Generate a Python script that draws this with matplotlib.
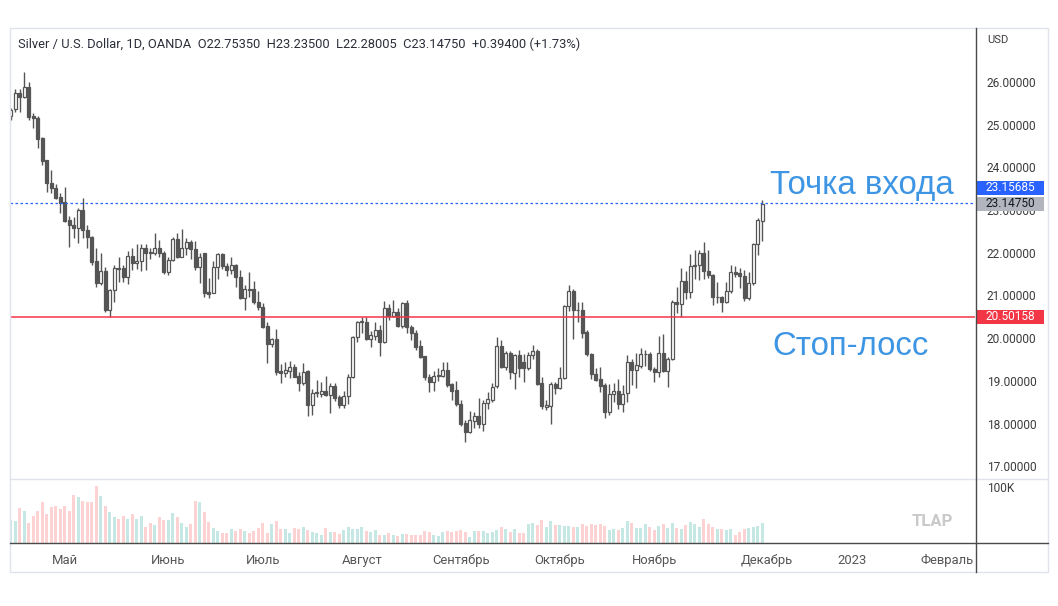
import matplotlib
matplotlib.use("Agg")
import numpy as np
import matplotlib.pyplot as plt
import matplotlib.transforms as mtransforms
from matplotlib.lines import Line2D
from matplotlib.patches import Rectangle

# ---------------- data ----------------
opens = [25.20, 25.37, 25.74, 25.65, 25.88, 25.20, 25.15, 24.69, 24.17, 23.63,
         23.52, 23.31, 23.18, 22.77, 22.65, 22.58, 23.00, 22.53, 22.37, 21.81,
         21.29, 21.57, 20.66, 21.13, 21.65, 21.65, 21.43, 21.93, 21.76, 21.80,
         22.12, 22.02, 21.99, 22.12, 22.00, 21.56, 21.83, 22.33, 21.90, 22.10,
         22.25, 22.08, 21.67, 22.00, 21.08, 21.06, 21.67, 21.98, 21.70, 21.60,
         21.72, 21.44, 20.94, 21.15, 21.15, 20.85, 20.72, 20.28, 19.86, 19.98,
         19.23, 19.18, 19.24, 19.33, 19.12, 18.95, 19.22, 18.43, 18.72, 18.70,
         18.77, 18.67, 18.88, 18.62, 18.43, 18.65, 19.08, 20.03, 20.38, 20.38,
         19.98, 20.05, 20.20, 19.90, 20.70, 20.52, 20.62, 20.29, 20.83, 20.27,
         20.13, 19.82, 19.57, 19.08, 18.98, 19.12, 19.12, 19.26, 18.92, 18.78,
         18.46, 18.01, 17.80, 18.06, 18.18, 17.99, 18.48, 18.55, 18.87, 19.82,
         19.33, 19.66, 19.18, 19.60, 19.45, 19.30, 19.60, 19.70, 18.95, 18.38,
         18.42, 18.92, 18.83, 19.07, 20.75, 21.10, 20.66, 20.67, 20.15, 19.62,
         19.17, 19.04, 18.90, 18.27, 18.68, 18.75, 18.45, 18.72, 19.43, 19.25,
         19.35, 19.62, 19.63, 19.28, 19.20, 19.66, 19.22, 19.50, 20.85, 20.80,
         21.34, 21.07, 21.68, 21.72, 22.00, 21.58, 21.48, 20.97, 20.97, 20.85,
         21.11, 21.56, 21.52, 21.46, 20.94, 21.28, 22.20, 22.7535]
highs = [25.39, 25.84, 25.84, 26.23, 26.00, 25.27, 25.20, 24.70, 24.18, 23.94,
         23.60, 23.40, 23.55, 22.86, 22.84, 23.05, 23.28, 22.65, 22.40, 22.10,
         22.00, 21.67, 21.15, 21.72, 21.90, 21.72, 22.03, 22.10, 22.20, 22.20,
         22.20, 22.10, 22.47, 22.30, 22.05, 21.90, 22.38, 22.47, 22.55, 22.35,
         22.30, 22.27, 22.00, 22.00, 21.40, 21.80, 22.00, 22.00, 21.75, 21.90,
         21.74, 21.60, 21.25, 21.55, 21.33, 21.10, 20.83, 20.38, 20.00, 20.22,
         19.40, 19.45, 19.47, 19.40, 19.20, 19.42, 19.25, 18.82, 19.03, 18.97,
         19.12, 18.95, 18.95, 18.67, 18.75, 19.15, 20.05, 20.40, 20.50, 20.50,
         20.16, 20.38, 20.30, 20.86, 20.80, 20.90, 20.70, 20.85, 20.90, 20.30,
         20.20, 19.95, 19.58, 19.15, 19.22, 19.30, 19.43, 19.45, 18.95, 19.00,
         18.55, 18.08, 18.30, 18.27, 18.60, 18.55, 18.74, 18.95, 20.03, 19.95,
         19.70, 19.70, 19.63, 19.72, 19.62, 19.68, 19.85, 19.75, 19.10, 18.55,
         18.97, 18.97, 19.32, 20.78, 21.25, 21.15, 20.85, 20.85, 20.20, 19.65,
         19.30, 19.33, 18.95, 18.93, 18.95, 19.05, 18.90, 19.60, 19.50, 19.66,
         19.78, 19.73, 19.67, 19.33, 20.05, 20.10, 19.55, 20.90, 21.20, 21.65,
         21.58, 21.98, 22.07, 22.07, 22.25, 22.07, 21.50, 21.32, 20.98, 21.32,
         21.72, 21.70, 21.65, 21.60, 21.55, 22.22, 22.82, 23.235]
lows = [25.11, 25.30, 25.30, 25.62, 25.11, 24.92, 24.46, 24.06, 23.42, 23.40,
        23.27, 22.93, 22.72, 22.14, 22.35, 22.24, 22.35, 22.10, 21.72, 21.20,
        21.25, 20.61, 20.50, 20.85, 21.32, 21.32, 21.27, 21.60, 21.62, 21.58,
        21.60, 21.85, 21.95, 21.90, 21.50, 21.48, 21.80, 21.88, 21.90, 21.95,
        21.85, 21.60, 21.30, 20.97, 20.95, 21.05, 21.38, 21.62, 21.45, 21.50,
        21.20, 20.92, 20.67, 20.97, 20.80, 20.66, 20.23, 19.42, 19.80, 19.14,
        18.95, 19.10, 19.07, 19.08, 18.76, 18.90, 18.17, 18.20, 18.63, 18.62,
        18.65, 18.25, 18.52, 18.37, 18.37, 18.45, 19.06, 19.90, 20.12, 19.96,
        19.80, 19.95, 19.57, 19.88, 20.43, 20.50, 20.27, 20.24, 20.12, 19.95,
        19.72, 19.53, 19.02, 18.74, 18.75, 19.00, 19.10, 18.85, 18.55, 18.40,
        17.95, 17.57, 17.78, 17.90, 17.90, 17.82, 18.34, 18.50, 18.83, 19.30,
        19.25, 19.05, 18.80, 19.10, 18.98, 19.25, 19.50, 18.90, 18.33, 18.32,
        18.00, 18.68, 18.82, 19.05, 20.63, 19.97, 20.38, 20.00, 19.57, 19.05,
        19.00, 18.74, 18.13, 18.20, 18.50, 18.35, 18.27, 18.50, 18.90, 18.83,
        19.30, 19.34, 19.22, 18.97, 19.10, 19.20, 18.85, 19.48, 20.60, 20.50,
        20.92, 20.95, 21.38, 21.37, 21.38, 21.42, 20.78, 20.83, 20.62, 20.83,
        21.06, 21.44, 21.18, 20.86, 20.90, 21.25, 21.95, 22.28005]
closes = [25.35, 25.74, 25.65, 25.88, 25.18, 25.15, 24.66, 24.15, 23.63, 23.52,
          23.28, 23.17, 22.74, 22.65, 22.58, 23.00, 22.53, 22.37, 21.79, 21.29,
          21.57, 20.66, 21.13, 21.65, 21.63, 21.43, 21.93, 21.76, 21.80, 22.12,
          22.00, 21.99, 22.12, 22.00, 21.56, 21.83, 22.33, 21.90, 22.10, 22.25,
          22.08, 21.67, 21.90, 21.06, 21.03, 21.67, 21.98, 21.70, 21.60, 21.72,
          21.44, 20.94, 21.15, 21.13, 20.85, 20.72, 20.26, 19.86, 19.98, 19.20,
          19.18, 19.26, 19.33, 19.10, 18.95, 19.20, 18.43, 18.72, 18.73, 18.77,
          18.67, 18.88, 18.60, 18.43, 18.65, 19.10, 20.03, 20.38, 20.39, 19.98,
          20.07, 20.20, 19.90, 20.70, 20.52, 20.62, 20.29, 20.83, 20.27, 20.12,
          19.80, 19.55, 19.08, 18.98, 19.12, 19.13, 19.26, 18.90, 18.77, 18.45,
          17.99, 17.80, 18.08, 18.18, 17.99, 18.48, 18.57, 18.85, 19.82, 19.33,
          19.66, 19.20, 19.60, 19.30, 19.30, 19.60, 19.70, 18.93, 18.42, 18.43,
          18.92, 18.83, 19.07, 20.75, 21.10, 20.65, 20.67, 20.13, 19.62, 19.15,
          19.03, 18.88, 18.27, 18.70, 18.75, 18.45, 18.70, 19.43, 19.25, 19.37,
          19.62, 19.63, 19.27, 19.20, 19.66, 19.22, 19.50, 20.85, 20.80, 21.34,
          21.07, 21.70, 21.72, 22.00, 21.58, 21.47, 20.97, 20.97, 20.85, 21.11,
          21.56, 21.50, 21.45, 20.94, 21.28, 22.20, 22.77, 23.1475]
volumes_k = [42, 41, 65, 59, 37, 50, 59, 75, 53, 67,
             68, 63, 68, 59, 89, 86, 78, 75, 76, 106,
             87, 68, 57, 48, 44, 50, 44, 53, 44, 50,
             30, 37, 33, 48, 42, 42, 56, 48, 37, 30,
             35, 78, 76, 57, 39, 28, 22, 19, 19, 25,
             22, 25, 22, 19, 22, 28, 37, 19, 35, 41,
             25, 25, 19, 28, 25, 30, 24, 20, 19, 15,
             28, 20, 20, 17, 24, 30, 25, 25, 30, 22,
             20, 24, 15, 15, 19, 15, 13, 17, 17, 15,
             15, 15, 22, 20, 15, 13, 20, 22, 20, 22,
             24, 20, 11, 22, 22, 22, 19, 20, 24, 30,
             25, 20, 25, 19, 19, 36, 37, 33, 42, 30,
             41, 33, 33, 32, 31, 30, 30, 35, 32, 35,
             33, 35, 31, 24, 25, 24, 27, 40, 37, 28,
             28, 35, 30, 24, 31, 36, 28, 37, 28, 25,
             33, 38, 35, 30, 44, 35, 30, 25, 25, 24,
             25, 15, 20, 25, 28, 30, 31, 37]

month_bar_index = [12, 35, 56, 78, 100, 122, 143, 168, 187, 208]
month_labels = ["Май", "Июнь", "Июль", "Август", "Сентябрь", "Октябрь",
                "Ноябрь", "Декабрь", "2023", "Февраль"]
price_ticks = [17, 18, 19, 20, 21, 22, 23, 24, 25, 26]

entry_price = 23.15685
stop_price = 20.50158
title = ("Silver / U.S. Dollar, 1D, OANDA  O22.75350  H23.23500  "
         "L22.28005  C23.14750  +0.39400 (+1.73%)")
entry_label = "Точка входа"
stop_label = "Стоп-лосс"

# ---------------- style ----------------
W, H = 1058, 606
plt.rcParams['font.family'] = ['Roboto', 'DejaVu Sans']
CANDLE = '#555555'
UP_VOL = '#c6e8e4'
DN_VOL = '#fcd2d2'
AXIS_TXT = '#3c3c3c'
BORDER = '#e0e3eb'
DARK = '#4a4a4a'
ANNOT = '#3d95e3'

fig = plt.figure(figsize=(W / 100, H / 100), dpi=100)
fig.patch.set_facecolor('white')


def fx(x):
    return x / W


def fy(y):
    return 1 - y / H


ax = fig.add_axes([fx(10), fy(479), fx(975) - fx(10), fy(28) - fy(479)])
axv = fig.add_axes([fx(10), fy(543), fx(975) - fx(10), fy(479) - fy(543)], sharex=ax)

o = np.array(opens)
h = np.array(highs)
l = np.array(lows)
c = np.array(closes)
v = np.array(volumes_k)
idx = np.arange(len(o))
up = c >= o

# candles
ax.vlines(idx, l, h, color=CANDLE, lw=1.0, zorder=2)
body_h = np.maximum(np.abs(c - o), 0.004)
ax.bar(idx, body_h, bottom=np.minimum(o, c), width=0.64,
       color=np.where(up, 'white', CANDLE), edgecolor=CANDLE,
       linewidth=0.9, zorder=3)

# horizontal levels
ax.axhline(entry_price, color='#2962ff', lw=0.9, ls=(0, (2, 2)), zorder=4)
ax.axhline(stop_price, color='#f23645', lw=1.1, zorder=4)

ax.set_xlim(-0.15, 214.3)
ax.set_ylim(16.70, 27.265)
for s in ax.spines.values():
    s.set_visible(False)
ax.yaxis.tick_right()
ax.set_yticks(price_ticks)
ax.set_yticklabels([f"{t:.5f}" for t in price_ticks])
ax.tick_params(axis='y', length=0, pad=8.6, labelsize=8.6, labelcolor=AXIS_TXT)
ax.tick_params(axis='x', length=0, labelbottom=False)

# price labels on the axis
blend = mtransforms.blended_transform_factory(ax.transAxes, ax.transData)
box_x0, box_x1 = 1.0021, 1.0715
box_h = 0.33
LABEL_SHIFT = 0.37


def price_box(yc, text, fc, tc):
    ax.add_patch(Rectangle((box_x0, yc - box_h / 2), box_x1 - box_x0, box_h,
                           transform=blend, facecolor=fc, edgecolor='none',
                           clip_on=False, zorder=10))
    ax.text((box_x0 + box_x1) / 2, yc, text, transform=blend, ha='center',
            va='center', color=tc, fontsize=8.6, zorder=11, clip_on=False)


price_box(entry_price + LABEL_SHIFT, f"{entry_price:.5f}", '#2962ff', 'white')
price_box(closes[-1], f"{closes[-1]:.5f}", '#b2b5be', '#131722')
price_box(stop_price, f"{stop_price:.5f}", '#f23645', 'white')

# annotations
ax.annotate(entry_label, xy=(idx[-1], entry_price), xytext=(8, 9),
            textcoords='offset pixels', fontsize=23.8, color=ANNOT,
            family=['Liberation Sans', 'DejaVu Sans'], va='baseline', ha='left')
ax.annotate(stop_label, xy=(idx[-1], stop_price), xytext=(10, -38),
            textcoords='offset pixels', fontsize=23.8, color=ANNOT,
            family=['Liberation Sans', 'DejaVu Sans'], va='baseline', ha='left')

# volume
axv.bar(idx, v, width=0.64, color=np.where(up, UP_VOL, DN_VOL), zorder=2)
axv.set_ylim(0, 118.5)
for s in axv.spines.values():
    s.set_visible(False)
axv.yaxis.tick_right()
axv.set_yticks([100])
axv.set_yticklabels(['100K'])
axv.tick_params(axis='y', length=0, pad=8.6, labelsize=8.6, labelcolor=AXIS_TXT)
axv.set_xticks(month_bar_index)
axv.set_xticklabels(month_labels)
axv.tick_params(axis='x', length=0, pad=8.0, labelsize=9.4, labelcolor='#555555')
for lab in axv.get_yticklabels():
    lab.set_va('center')

# frame lines
fig.add_artist(Rectangle((fx(10), fy(572)), fx(1048) - fx(10), fy(28) - fy(572),
                         transform=fig.transFigure, fill=False, edgecolor=BORDER, lw=1))
fig.add_artist(Line2D([fx(10), fx(1048)], [fy(479), fy(479)], color=BORDER, lw=1,
                      transform=fig.transFigure))
fig.add_artist(Line2D([fx(10), fx(1048)], [fy(543), fy(543)], color=DARK, lw=1,
                      transform=fig.transFigure))
fig.add_artist(Line2D([fx(976), fx(976)], [fy(28), fy(572)], color=DARK, lw=1,
                      transform=fig.transFigure))

# texts
fig.text(fx(18), fy(44), title, fontsize=9.3, color='#2a2e39', va='center', ha='left')
fig.text(fx(987), fy(40), 'USD', fontsize=8.0, color=AXIS_TXT, va='center', ha='left')
fig.text(fx(932), fy(522), 'TLAP', fontsize=12, fontweight='bold', color='#c9c9c9',
         va='center', ha='center')

fig.savefig('out.png', dpi=100)
